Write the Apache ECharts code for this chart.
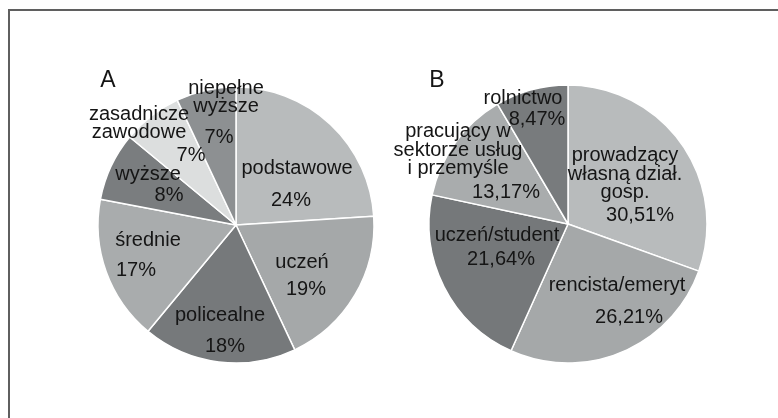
<!DOCTYPE html>
<html>
<head>
<meta charset="utf-8">
<script src="https://cdn.jsdelivr.net/npm/echarts/dist/echarts.min.js"></script>
<style>
html,body{margin:0;padding:0;background:#fff;}
#c{width:778px;height:418px;}
</style>
</head>
<body>
<div id="c"></div>
<script>
// ---- data ----
const categoriesA = ['podstawowe', 'uczeń', 'policealne', 'średnie', 'wyższe', 'zasadnicze\nzawodowe', 'niepełne\nwyższe'];
const valuesA = [24, 19, 18, 17, 8, 7, 7];
const categoriesB = ['prowadzący\nwłasną dział.\ngosp.', 'rencista/emeryt', 'uczeń/student', 'pracujący w\nsektorze usług\ni przemyśle', 'rolnictwo'];
const valuesB = [30.51, 26.21, 21.64, 13.17, 8.47];
const chartTitles = ['A', 'B'];

// ---- styles / layout ----
const colorsA = ['#b8bbbc', '#a5a8a9', '#76797b', '#a9acad', '#7a7d7f', '#dcdede', '#8d9092'];
const colorsB = ['#b8bbbc', '#a5a8a9', '#75787a', '#a9acad', '#787b7d'];
const centerA = [236, 225], centerB = [568, 224];
const radiusA = 138, radiusB = 139;
// label offsets relative to the pie centre
const nameOffA = [[61, -57], [66, 37], [-16, 90], [-88, 15], [-88, -51], [-97, -101.5], [-10, -127.5]];
const pctOffA  = [[55, -25], [70, 64], [-11, 121], [-100, 45], [-67, -30], [-45, -70], [-17, -88]];
const nameOffB = [[57, -50], [49, 61], [-71, 11], [-110, -74], [-45, -126]];
const pctOffB  = [[72, -9], [61, 93], [-67, 35], [-62, -32], [-31, -105]];

const FONT = 'Liberation Sans, Arial, sans-serif';
const TEXT = '#151515';

const fmtA = v => v + '%';
const fmtB = v => v.toFixed(2).replace('.', ',') + '%';

function makePie(names, values, colors, center, radius, offsets, textFn, overlay) {
  return {
    type: 'pie',
    center: center,
    radius: radius,
    startAngle: 90,
    clockwise: true,
    avoidLabelOverlap: false,
    minShowLabelAngle: 0,
    silent: overlay,
    z: overlay ? 3 : 2,
    data: names.map((n, i) => ({
      name: n,
      value: values[i],
      itemStyle: overlay
        ? { color: 'rgba(0,0,0,0)', borderWidth: 0 }
        : { color: colors[i], borderColor: '#ffffff', borderWidth: 1.5 }
    })),
    label: {
      show: true,
      position: 'inside',
      formatter: p => textFn(p),
      color: TEXT,
      fontFamily: FONT,
      fontSize: 20,
      lineHeight: 18.5
    },
    labelLine: { show: false },
    labelLayout: function (params) {
      const off = offsets[params.dataIndex];
      return { x: center[0] + off[0], y: center[1] + off[1], align: 'center', verticalAlign: 'middle' };
    },
    emphasis: { disabled: true },
    tooltip: { show: false }
  };
}

const chart = echarts.init(document.getElementById('c'), null, { renderer: 'canvas' });
chart.setOption({
  animation: false,
  backgroundColor: '#ffffff',
  graphic: [
    { type: 'rect', shape: { x: 9, y: 10, width: 800, height: 440 }, style: { fill: 'none', stroke: '#5f5f5f', lineWidth: 2 }, silent: true },
    { type: 'text', x: 108, y: 81, style: { text: chartTitles[0], font: '23px ' + FONT, fill: TEXT, align: 'center', verticalAlign: 'middle' } },
    { type: 'text', x: 437, y: 81, style: { text: chartTitles[1], font: '23px ' + FONT, fill: TEXT, align: 'center', verticalAlign: 'middle' } }
  ],
  series: [
    makePie(categoriesA, valuesA, colorsA, centerA, radiusA, nameOffA, p => p.name, false),
    makePie(categoriesA, valuesA, colorsA, centerA, radiusA, pctOffA, p => fmtA(p.value), true),
    makePie(categoriesB, valuesB, colorsB, centerB, radiusB, nameOffB, p => p.name, false),
    makePie(categoriesB, valuesB, colorsB, centerB, radiusB, pctOffB, p => fmtB(p.value), true)
  ]
});
</script>
</body>
</html>
